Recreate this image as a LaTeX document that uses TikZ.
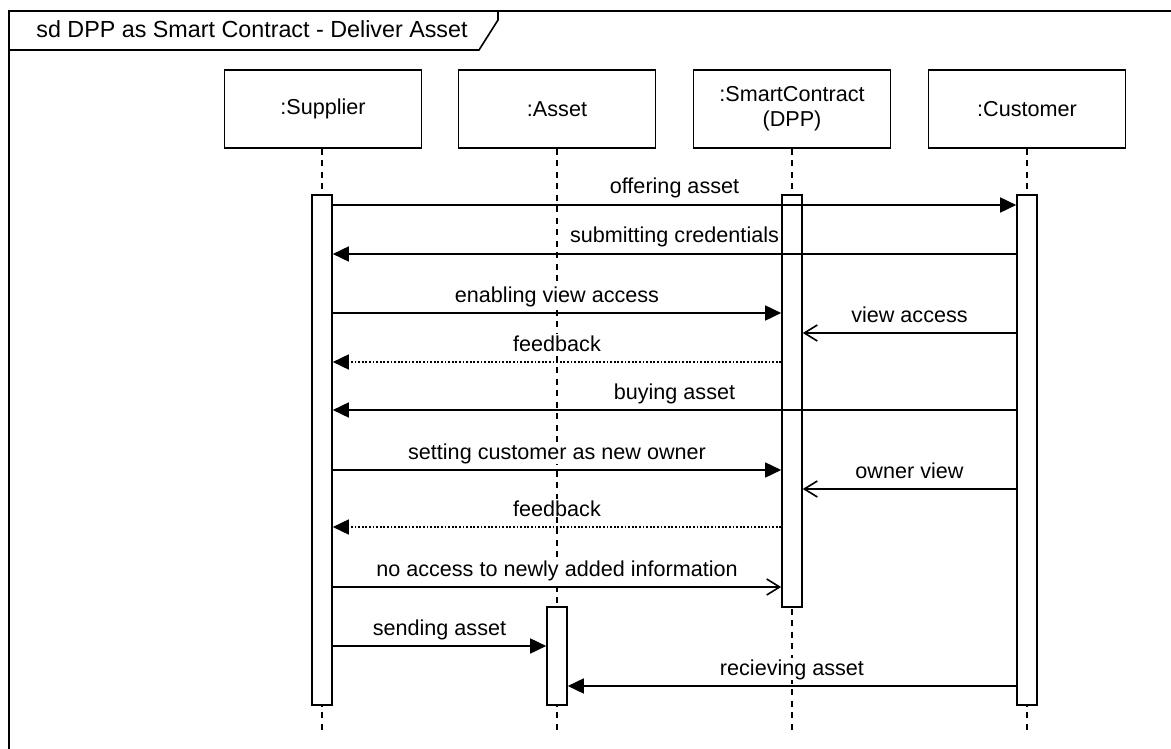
\documentclass[tikz,border=0pt]{standalone}
\usepackage{fontspec}
\setmainfont{Liberation Sans}
\usetikzlibrary{arrows.meta}
\begin{document}
\begin{tikzpicture}[x=1pt,y=-1pt,
  lw/.style={line width=1.6pt},
  part/.style={draw,lw,fill=white,minimum width=197pt,minimum height=78pt,inner sep=0pt,align=center,font=\fontsize{21.6}{25}\selectfont},
  act/.style={draw,lw,fill=white,minimum width=20pt,inner sep=0pt},
  life/.style={lw,dash pattern=on 6pt off 5.5pt},
  msg/.style={lw,-{Triangle[length=16pt,width=15pt]}},
  ret/.style={lw,dash pattern=on 1.8pt off 1.8pt,-{Triangle[length=16pt,width=15pt]}},
  opn/.style={lw,-{Straight Barb[length=13pt,width=16pt,line width=1.6pt]}},
  lbl/.style={fill=white,inner sep=1pt,anchor=base,font=\fontsize{21.6}{25}\selectfont}]
\clip (0,0) rectangle (1171,749);
\fill[white] (0,0) rectangle (1171,749);
% frame
\draw[lw] (9,11) rectangle (1190,770);
\draw[lw] (9,50) -- (479,50) -- (498,20) -- (498,11);
\node[font=\fontsize{23.3}{27}\selectfont,anchor=base] (title) at (252,38) {sd DPP as Smart Contract - Deliver Asset};
% participants
\node[part] (sup) at (323,109) {\raisebox{-2pt}{:Supplier}};
\node[part] (ast) at (557,109) {\raisebox{-2pt}{:Asset}};
\node[part] (sc) at (792,109) {:SmartContract\\(DPP)};
\node[part] (cus) at (1027,109) {\raisebox{-2pt}{:Customer}};
% lifeline ends
\coordinate (supE) at (322,730);
\coordinate (astE) at (557,730);
\coordinate (scE) at (792,730);
\coordinate (cusE) at (1027,730);
\draw[life] (sup.south -| supE) -- (supE);
\draw[life] (ast.south) -- (astE);
\draw[life] (sc.south) -- (scE);
\draw[life] (cus.south) -- (cusE);
% activations
\node[act,minimum height=510pt] (supA) at (322,450) {};
\node[act,minimum height=412pt] (scA) at (792,401) {};
\node[act,minimum height=510pt] (cusA) at (1027,450) {};
\node[act,minimum height=98pt] (astA) at (557,656) {};
% message levels
\coordinate (m1) at (0,205);
\coordinate (m2) at (0,254);
\coordinate (m3) at (0,313);
\coordinate (m4) at (0,333);
\coordinate (m5) at (0,362);
\coordinate (m6) at (0,410);
\coordinate (m7) at (0,470);
\coordinate (m8) at (0,489);
\coordinate (m9) at (0,527);
\coordinate (m10) at (0,587);
\coordinate (m11) at (0,646);
\coordinate (m12) at (0,686);
% messages
\draw[msg] (supA.east |- m1) -- node[lbl,yshift=11pt] {offering asset} (cusA.west |- m1);
\draw[msg] (cusA.west |- m2) -- node[lbl,yshift=11pt] {submitting credentials} (supA.east |- m2);
\draw[msg] (supA.east |- m3) -- node[lbl,yshift=11pt] {enabling view access} (scA.west |- m3);
\draw[opn] (cusA.west |- m4) -- node[lbl,yshift=11pt] {view access} (scA.east |- m4);
\draw[ret] (scA.west |- m5) -- node[lbl,yshift=11pt] {feedback} (supA.east |- m5);
\draw[msg] (cusA.west |- m6) -- node[lbl,yshift=11pt] {buying asset} (supA.east |- m6);
\draw[msg] (supA.east |- m7) -- node[lbl,yshift=11pt] {setting customer as new owner} (scA.west |- m7);
\draw[opn] (cusA.west |- m8) -- node[lbl,yshift=11pt] {owner view} (scA.east |- m8);
\draw[ret] (scA.west |- m9) -- node[lbl,yshift=11pt] {feedback} (supA.east |- m9);
\draw[opn] (supA.east |- m10) -- node[lbl,yshift=11pt] {no access to newly added information} (scA.west |- m10);
\draw[msg] (supA.east |- m11) -- node[lbl,yshift=11pt] {sending asset} (astA.west |- m11);
\draw[msg] (cusA.west |- m12) -- node[lbl,yshift=11pt] {recieving asset} (astA.east |- m12);
\end{tikzpicture}
\end{document}
